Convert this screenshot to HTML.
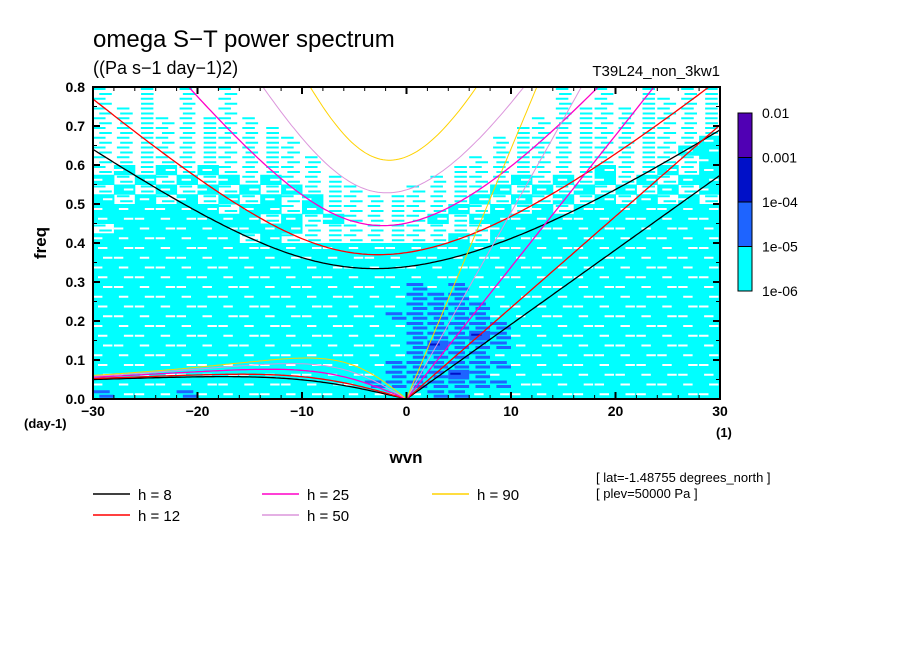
<!DOCTYPE html>
<html><head><meta charset="utf-8"><style>
body{margin:0;background:#fff}
svg{display:block;font-family:"Liberation Sans",sans-serif}
</style></head><body>
<svg id="c" width="904" height="654" viewBox="0 0 904 654">
<rect width="904" height="654" fill="#fff"/>
<text x="93" y="47" font-size="24">omega S−T power spectrum</text>
<text x="93" y="74" font-size="18">((Pa s−1 day−1)2)</text>
<text x="720" y="76" font-size="15" text-anchor="end">T39L24_non_3kw1</text>
<g id="heat"></g>
<g id="curves"></g>
<g id="axes"></g>
<text x="46" y="243" font-size="17" font-weight="bold" transform="rotate(-90 46 243)" text-anchor="middle">freq</text>
<text x="406" y="463" font-size="17" font-weight="bold" text-anchor="middle">wvn</text>
<text x="24" y="428" font-size="13" font-weight="bold">(day-1)</text>
<text x="716" y="437" font-size="13" font-weight="bold">(1)</text>
<text x="596" y="482" font-size="13">[ lat=-1.48755 degrees_north ]</text>
<text x="596" y="498" font-size="13">[ plev=50000 Pa ]</text>
<g id="legend"></g>
<g id="cbar"></g>
</svg>
<script>
const NS="http://www.w3.org/2000/svg";
const kMin=-30,kMax=30,fMin=0,fMax=0.8;
const X0=93,X1=720,Y0=399,Y1=87;
const xs=k=>X0+(k-kMin)/(kMax-kMin)*(X1-X0);
const ys=f=>Y0-(f-fMin)/(fMax-fMin)*(Y0-Y1);
function mk(t,a,p){const e=document.createElementNS(NS,t);for(const k in a)e.setAttribute(k,a[k]);(p||document.getElementById('c')).appendChild(e);return e;}

// heatmap levels (rows top 0.8 -> bottom 0, cols k=-30..30 step 2)
const heatRows=[
"101010100000000000000010101011",
"101010100000000000000010101111",
"111010100000000000000011111111",
"111111110000000000000111111111",
"111111111000000000001111111111",
"111111111100000000011111111112",
"111111111100000000011111111122",
"111111111110000000111111111112",
"121212111110000001111111211212",
"212121212111000011112121212122",
"121212121211100111121212121212",
"212121212121111111212121212121",
"222222122121111112121212222222",
"222222221212111121222222222222",
"122222222211111111122222222222",
"222222212111111112122222222222",
"222222222222222222222222222222",
"222222222222222222222222222222",
"222222222222222222222222222222",
"222222222222222222222222222222",
"222222222222222323222222222222",
"222222222222222333222222222222",
"222222222222222333322222222222",
"222222222222223333322222222222",
"222222222222222333332222222222",
"222222222222222333432222222222",
"222222222222222343332222222222",
"222222222222222333322222222222",
"222222222222223333332222222222",
"222222222222223334322222222222",
"222222222222233333332222222222",
"322232222222222233222222222222"];
const heatDk=2, heatDf=0.025;
const CY="#00ffff",BL="#1e64ff",DB="#0010c8";
const hg=document.getElementById('heat');
heatRows.forEach((row,r)=>{
  const fTop=fMax-r*heatDf;
  for(let i=0;i<row.length;i++){
    const lv=+row[i];
    const k0=kMin+i*heatDk;
    const x=xs(k0),w=xs(k0+heatDk)-x,y=ys(fTop),h=ys(fTop-heatDf)-y;
    if(lv===0)continue;
    let cell;
    if(lv===1){
      mk('rect',{x:x+(i%3)*3,y:y+1,width:w*0.6,height:2,fill:CY},hg);
      cell=mk('rect',{x:x+w*0.3,y:y+6,width:w*0.6,height:2,fill:CY},hg);
    } else if(lv===2){
      mk('rect',{x:x,y:y,width:w+0.5,height:h+0.5,fill:CY},hg);
      cell=mk('rect',{x:x+((i+r)%3)*5,y:y+4,width:w*0.45,height:2,fill:"#fff"},hg);
    } else if(lv===3){
      mk('rect',{x:x,y:y,width:w+0.5,height:h+0.5,fill:CY},hg);
      mk('rect',{x:x,y:y+1,width:w*0.8,height:3,fill:BL},hg);
      cell=mk('rect',{x:x+w*0.3,y:y+5.5,width:w*0.7,height:3,fill:BL},hg);
    } else {
      mk('rect',{x:x,y:y,width:w+0.5,height:h+0.5,fill:BL},hg);
      cell=mk('rect',{x:x+2,y:y+3,width:w*0.5,height:2,fill:DB},hg);
    }
    
    
  }
});

// dispersion curves
const depths=[8,12,25,50,90];
const depthColors=["#000000","#ff0000","#ff00c8","#dc96dc","#ffd200"];
const a=6.371e6,beta=2.29e-11,g=9.81;
function cubicRoot(k,c,n,lo,hi){
  const kk=k/a;
  const F=w=>w*w*w-(c*c*kk*kk+(2*n+1)*beta*c)*w-beta*c*c*kk;
  let fl=F(lo);
  for(let it=0;it<80;it++){const m=(lo+hi)/2,fm=F(m);if((fm>0)===(fl>0)){lo=m;fl=fm;}else hi=m;}
  return (lo+hi)/2;
}
const toCpd=w=>w*86400/(2*Math.PI);
const cg=document.getElementById('curves');
const clip=mk('clipPath',{id:'pc'});mk('rect',{x:X0,y:Y1,width:X1-X0,height:Y0-Y1},clip);
cg.setAttribute('clip-path','url(#pc)');
depths.forEach((h,di)=>{
  const c=Math.sqrt(g*h),col=depthColors[di],sw=di<3?1.3:1;
  let ig="",er="",kv="";
  for(let k=kMin;k<=kMax+1e-9;k+=0.25){
    const w0=Math.sqrt(3*beta*c);
    const wig=cubicRoot(k,c,1,w0*0.75,1e-3);
    ig+=(ig?"L":"M")+xs(k).toFixed(1)+","+ys(toCpd(wig)).toFixed(1);
    if(k<0){const wer=cubicRoot(k,c,1,1e-12,Math.sqrt(beta*c)*0.5);er+=(er?"L":"M")+xs(k).toFixed(1)+","+ys(toCpd(wer)).toFixed(1);}
    if(k>=0){kv+=(kv?"L":"M")+xs(k).toFixed(1)+","+ys(toCpd(c*k/a)).toFixed(1);}
  }
  er+="L"+xs(0)+","+ys(0);
  [[ig,'ig-curve'],[er,'er-curve'],[kv,'kelvin-line']].forEach(([d,nm])=>{
    const p=mk('path',{d:d,fill:"none",stroke:col,"stroke-width":sw},cg);
    
    
  });
});

// axes
const ax=document.getElementById('axes');
mk('rect',{x:X0,y:Y1,width:X1-X0,height:Y0-Y1,fill:"none",stroke:"#000","stroke-width":2},ax);
const xTicks=[-30,-20,-10,0,10,20,30];
const yTicks=[0,0.1,0.2,0.3,0.4,0.5,0.6,0.7,0.8];
for(let k=kMin;k<=kMax;k+=2){const L=(k%10===0)?7:4;mk('line',{x1:xs(k),x2:xs(k),y1:Y0,y2:Y0-L,stroke:"#000","stroke-width":k%10===0?2:1},ax);mk('line',{x1:xs(k),x2:xs(k),y1:Y1,y2:Y1+L,stroke:"#000","stroke-width":k%10===0?2:1},ax);}
for(let i=0;i<=16;i++){const f=i*0.05,L=i%2===0?7:4;mk('line',{x1:X0,x2:X0+L,y1:ys(f),y2:ys(f),stroke:"#000","stroke-width":i%2===0?2:1},ax);mk('line',{x1:X1,x2:X1-L,y1:ys(f),y2:ys(f),stroke:"#000","stroke-width":i%2===0?2:1},ax);}
xTicks.forEach(k=>{const t=mk('text',{x:xs(k),y:416,"font-size":14,"font-weight":"bold","text-anchor":"middle"},ax);t.textContent=k<0?"\u2212"+(-k):String(k);

});
yTicks.forEach(f=>{const t=mk('text',{x:85,y:ys(f)+5,"font-size":14,"font-weight":"bold","text-anchor":"end"},ax);t.textContent=f.toFixed(1);

});

// legend
const lg=document.getElementById('legend');
const legPos=[[93,494],[93,515],[262,494],[262,515],[432,494]];
depths.forEach((h,i)=>{const [x,y]=legPos[i];
  const l=mk('line',{x1:x,x2:x+37,y1:y,y2:y,stroke:depthColors[i],"stroke-width":1.5},lg);
  
  
  const t=mk('text',{x:x+45,y:y+6,"font-size":15,"xml:space":"preserve"},lg);t.textContent="h = "+(h<10?" "+h:h);
  
  
});

// colorbar
const cbLabels=["0.01","0.001","1e-04","1e-05","1e-06"];
const cbColors=["#5000b4","#0010c8","#1e64ff","#00ffff"];
const cb=document.getElementById('cbar');
const cbx=738,cby=113,cbh=44.5;
cbColors.forEach((col,i)=>{const r=mk('rect',{x:cbx,y:cby+i*cbh,width:14,height:cbh,fill:col,stroke:"#000","stroke-width":1},cb);

});
cbLabels.forEach((s,i)=>{const t=mk('text',{x:762,y:cby+i*cbh+5,"font-size":14},cb);t.textContent=s;

});
</script>
</body></html>
